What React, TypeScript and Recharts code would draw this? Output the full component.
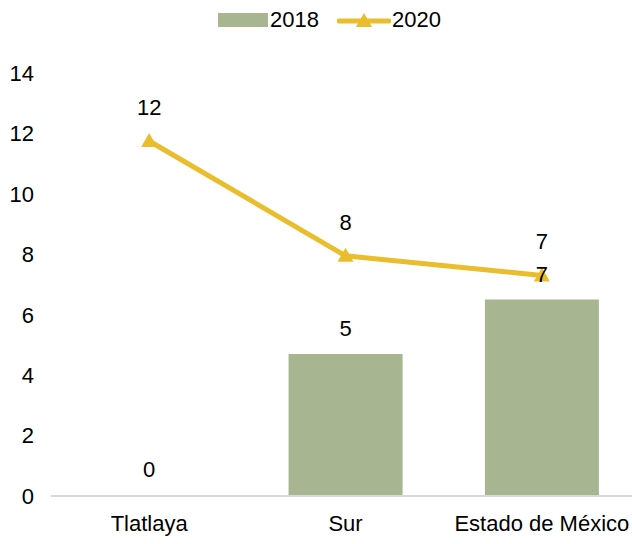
import React from 'react';
import { ComposedChart, Bar, Line, XAxis, YAxis, Legend, LabelList, Rectangle } from 'recharts';

const categories = ['Tlatlaya', 'Sur', 'Estado de México'];
const values2018 = [0, 4.7, 6.5];
const values2020 = [11.75, 7.95, 7.3];
const yTicks = [0, 2, 4, 6, 8, 10, 12, 14];

const BAR_COLOR = '#a7b590';
const LINE_COLOR = '#e9bd2b';
const FONT = '"Liberation Sans", Arial, sans-serif';
const FS = 22;

const data = categories.map((name, i) => ({
  name,
  y2018: values2018[i],
  y2020: values2020[i],
}));

const Triangle = (props: any) => {
  const { cx, cy } = props;
  if (cx == null || cy == null) return null;
  return <polygon points={`${cx},${cy - 8} ${cx - 8},${cy + 6} ${cx + 8},${cy + 6}`} fill={LINE_COLOR} />;
};

// zero bars get a 1px min size so the label shows, but the rect itself is skipped
const BarShape = (props: any) => {
  if (!props.value && props.value !== undefined) return null;
  if (Array.isArray(props.value) && props.value[1] - props.value[0] === 0) return null;
  return <Rectangle {...props} />;
};

const BarLabel = (props: any) => {
  const { x, y, width, value } = props;
  if (x == null || y == null) return null;
  return (
    <text x={x + width / 2} y={y - 18} textAnchor="middle" fill="#000" fontSize={FS} fontFamily={FONT}>
      {String(Math.round(Number(value)))}
    </text>
  );
};

const LegendContent = () => (
  <div style={{ display: 'flex', alignItems: 'center', height: 40, paddingLeft: 218, fontFamily: FONT, fontSize: FS, color: '#000' }}>
    <span style={{ display: 'inline-block', width: 50, height: 14, background: BAR_COLOR }} />
    <span style={{ marginLeft: 2 }}>2018</span>
    <svg width={54} height={20} style={{ marginLeft: 18 }}>
      <line x1={2} y1={11} x2={52} y2={11} stroke={LINE_COLOR} strokeWidth={5} strokeLinecap="round" />
      <polygon points="27,3 19,17 35,17" fill={LINE_COLOR} />
    </svg>
    <span style={{ marginLeft: 1 }}>2020</span>
  </div>
);

export default function App() {
  return (
    <div style={{ position: 'absolute', top: 0, left: 0, width: 632, height: 544, overflow: 'hidden', background: '#fff' }}>
      <ComposedChart width={640} height={544} data={data} margin={{ top: 33, right: 0, bottom: 0, left: 0 }} barCategoryGap="21%">
        <Legend verticalAlign="top" content={<LegendContent />} wrapperStyle={{ top: 0, left: 0, width: 640, height: 40 }} />
        <XAxis
          dataKey="name"
          height={48}
          tickSize={0}
          tickMargin={19}
          axisLine={{ stroke: '#d9d9d9', strokeWidth: 2 }}
          tickLine={false}
          tick={{ fill: '#000', fontSize: FS, fontFamily: FONT }}
          interval={0}
        />
        <YAxis
          width={51}
          domain={[0, 14]}
          ticks={yTicks}
          tickSize={0}
          tickMargin={17}
          axisLine={false}
          tickLine={false}
          tick={{ fill: '#000', fontSize: FS, fontFamily: FONT }}
        />
        <Bar dataKey="y2018" fill={BAR_COLOR} minPointSize={1} shape={<BarShape />} isAnimationActive={false}>
          <LabelList dataKey="y2018" content={<BarLabel />} />
        </Bar>
        <Line dataKey="y2020" stroke={LINE_COLOR} strokeWidth={5} dot={<Triangle />} activeDot={false} isAnimationActive={false}>
          <LabelList dataKey="y2020" position="top" offset={26} formatter={(v: any) => String(Math.round(v))} fill="#000" fontSize={FS} fontFamily={FONT} />
        </Line>
      </ComposedChart>
    </div>
  );
}
